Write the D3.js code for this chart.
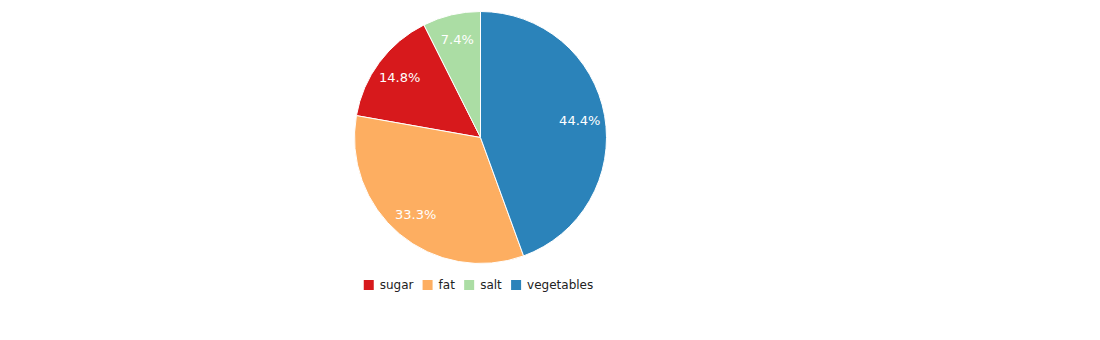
<!DOCTYPE html>
<html>
<head>
<meta charset="utf-8">
<script src="https://cdn.jsdelivr.net/npm/d3@7/dist/d3.min.js"></script>
<style>
  body { margin: 0; background: #fff; }
  svg { font-family: "DejaVu Sans", sans-serif; }
</style>
</head>
<body>
<svg id="chart" width="1100" height="340"></svg>
<script>
const categories = ["sugar", "fat", "salt", "vegetables"];
const values = [4, 9, 2, 12];
const colors = ["#d7191c", "#fdae61", "#abdda4", "#2b83ba"];

const svg = d3.select("#chart");
const cx = 480.5, cy = 137.5, r = 126;

const color = d3.scaleOrdinal().domain(categories).range(colors);
const data = categories.map((c, i) => ({ name: c, value: values[i] }));
const total = d3.sum(values);

const pie = d3.pie().value(d => d.value).sort((a, b) => b.value - a.value);
const arc = d3.arc().innerRadius(0).outerRadius(r);
const labelArc = d3.arc().innerRadius(r * 0.8).outerRadius(r * 0.8);

const g = svg.append("g").attr("transform", `translate(${cx},${cy})`);
const arcs = pie(data);

g.selectAll("path").data(arcs).enter().append("path")
  .attr("d", arc)
  .attr("fill", d => color(d.data.name))
  .attr("stroke", "#fff")
  .attr("stroke-width", 1);

g.selectAll("text").data(arcs).enter().append("text")
  .attr("transform", d => `translate(${labelArc.centroid(d)})`)
  .attr("dy", "0.35em")
  .attr("text-anchor", "middle")
  .attr("fill", "#fff")
  .style("font-size", "13px")
  .text(d => (d.data.value / total * 100).toFixed(1) + "%");

// legend
const legend = svg.append("g");
const items = legend.selectAll("g").data(categories).enter().append("g");
items.append("rect").attr("width", 10).attr("height", 10).attr("y", -5)
  .attr("fill", d => color(d));
items.append("text").attr("x", 16).attr("dy", "0.35em")
  .style("font-size", "12px").attr("fill", "#222").text(d => d);
let x = 0;
items.each(function() {
  const w = this.getBBox().width;
  d3.select(this).attr("transform", `translate(${x},0)`);
  x += w + 9;
});
const totalW = x - 9;
legend.attr("transform", `translate(${cx - totalW / 2 - 2},285)`);
</script>
</body>
</html>
